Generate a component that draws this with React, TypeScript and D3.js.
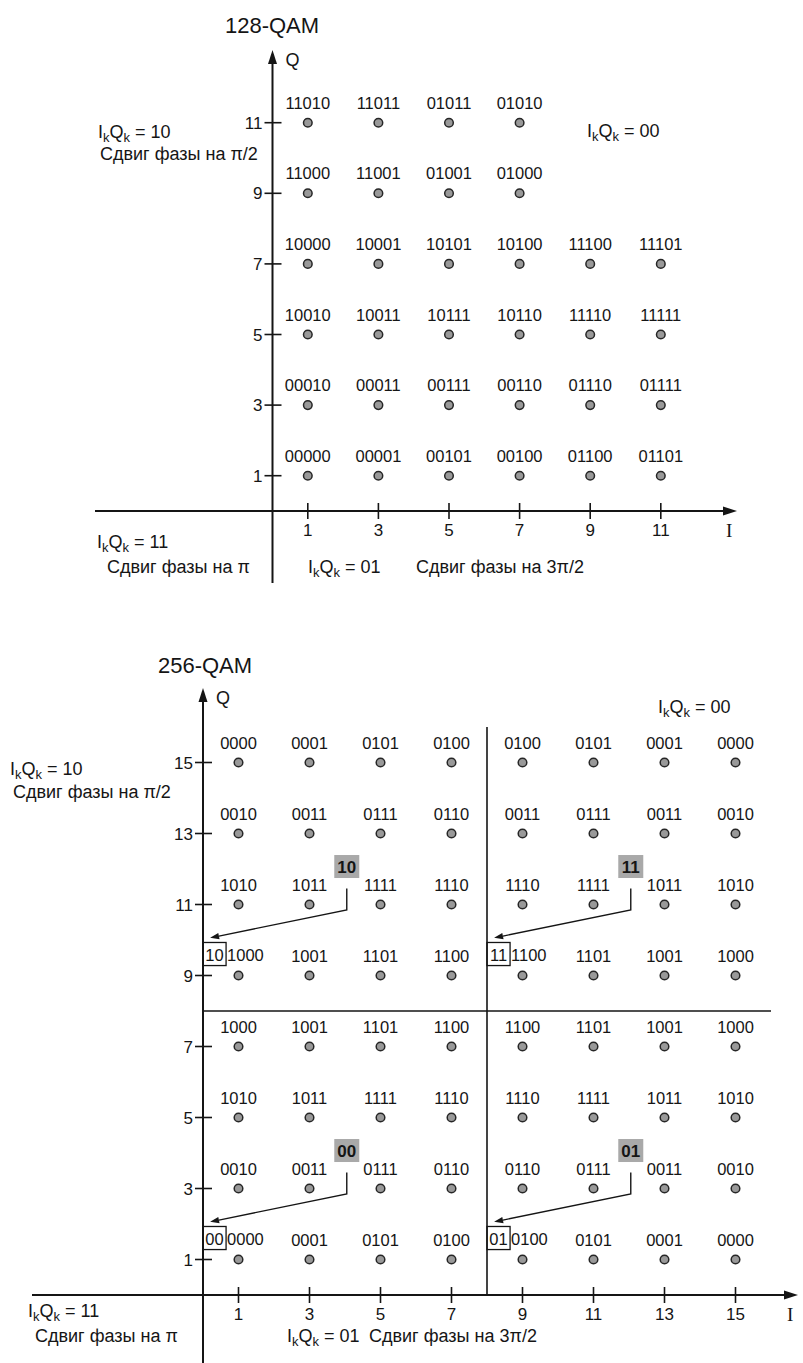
import React from 'react';
import * as d3 from 'd3';

const W = 803;
const H = 1363;

// 128-QAM: point labels by row (Q from top), columns follow I = 1, 3, 5 ...
const iValues128 = [1, 3, 5, 7, 9, 11];
const qValues128 = [11, 9, 7, 5, 3, 1];
const labels128 = [
  ['11010', '11011', '01011', '01010'],
  ['11000', '11001', '01001', '01000'],
  ['10000', '10001', '10101', '10100', '11100', '11101'],
  ['10010', '10011', '10111', '10110', '11110', '11111'],
  ['00010', '00011', '00111', '00110', '01110', '01111'],
  ['00000', '00001', '00101', '00100', '01100', '01101'],
];

// 256-QAM
const iValues256 = [1, 3, 5, 7, 9, 11, 13, 15];
const qValues256 = [15, 13, 11, 9, 7, 5, 3, 1];
const labels256 = [
  ['0000', '0001', '0101', '0100', '0100', '0101', '0001', '0000'],
  ['0010', '0011', '0111', '0110', '0011', '0111', '0011', '0010'],
  ['1010', '1011', '1111', '1110', '1110', '1111', '1011', '1010'],
  ['1000', '1001', '1101', '1100', '1100', '1101', '1001', '1000'],
  ['1000', '1001', '1101', '1100', '1100', '1101', '1001', '1000'],
  ['1010', '1011', '1111', '1110', '1110', '1111', '1011', '1010'],
  ['0010', '0011', '0111', '0110', '0110', '0111', '0011', '0010'],
  ['0000', '0001', '0101', '0100', '0100', '0101', '0001', '0000'],
];

// quadrant prefixes (IkQk) and the corner of each quadrant in I/Q units
const quadrants256 = [
  { bits: '10', i0: 0, q0: 8 },
  { bits: '11', i0: 8, q0: 8 },
  { bits: '00', i0: 0, q0: 0 },
  { bits: '01', i0: 8, q0: 0 },
];

const FONT = '"Liberation Sans", Arial, Helvetica, sans-serif';
const INK = '#151515';

const IkQk = ({ x, y, value }: { x: number; y: number; value: string }) => (
  <text x={x} y={y} fontSize={18} fill={INK} style={{ whiteSpace: 'pre' }}>
    I<tspan fontSize={13} dy={4}>k</tspan>
    <tspan dy={-4}>Q</tspan>
    <tspan fontSize={13} dy={4}>k</tspan>
    <tspan dy={-4}>{` = ${value}`}</tspan>
  </text>
);

const Note = ({ x, y, children }: { x: number; y: number; children: React.ReactNode }) => (
  <text x={x} y={y} fontSize={18} fill={INK}>
    {children}
  </text>
);

interface PanelProps {
  title: string;
  titleX: number;
  titleY: number;
  ox: number;
  oy: number;
  unit: number;
  xStart: number;
  xEnd: number;
  yTop: number;
  yBottom: number;
  iValues: number[];
  qValues: number[];
  labels: string[][];
  skip?: Set<string>;
  children?: (x: d3.ScaleLinear<number, number>, y: d3.ScaleLinear<number, number>) => React.ReactNode;
}

const Panel: React.FC<PanelProps> = (p) => {
  const x = d3.scaleLinear().domain([0, 1]).range([p.ox, p.ox + p.unit]);
  const y = d3.scaleLinear().domain([0, 1]).range([p.oy, p.oy - p.unit]);
  const ah = 14;
  const aw = 4.5;
  return (
    <g>
      <text x={p.titleX} y={p.titleY} fontSize={22} textAnchor="middle" fill={INK}>
        {p.title}
      </text>
      {/* axes */}
      <line x1={p.xStart} x2={p.xEnd - ah + 2} y1={p.oy} y2={p.oy} stroke={INK} strokeWidth={2} />
      <path
        d={`M${p.xEnd},${p.oy} L${p.xEnd - ah},${p.oy - aw} L${p.xEnd - ah},${p.oy + aw} Z`}
        fill={INK}
      />
      <line x1={p.ox} x2={p.ox} y1={p.yTop + ah - 2} y2={p.yBottom} stroke={INK} strokeWidth={2} />
      <path
        d={`M${p.ox},${p.yTop} L${p.ox - aw},${p.yTop + ah} L${p.ox + aw},${p.yTop + ah} Z`}
        fill={INK}
      />
      <text x={p.ox + 13} y={p.yTop + 16} fontSize={18} fill={INK}>
        Q
      </text>
      <text
        x={p.xEnd - 11}
        y={p.oy + 26}
        fontSize={19}
        fill={INK}
        fontFamily='"Liberation Serif", "Times New Roman", serif'
      >
        I
      </text>
      {/* ticks */}
      {p.qValues.map((q) => (
        <g key={'q' + q}>
          <line x1={p.ox - 8} x2={p.ox + 9} y1={y(q)} y2={y(q)} stroke={INK} strokeWidth={1.6} />
          <text x={p.ox - 10} y={y(q) + 6} fontSize={17} textAnchor="end" fill={INK}>
            {q}
          </text>
        </g>
      ))}
      {p.iValues.map((i) => (
        <g key={'i' + i}>
          <line x1={x(i)} x2={x(i)} y1={p.oy - 8} y2={p.oy + 8} stroke={INK} strokeWidth={1.6} />
          <text x={x(i)} y={p.oy + 25} fontSize={17} textAnchor="middle" fill={INK}>
            {i}
          </text>
        </g>
      ))}
      {/* constellation points */}
      {p.labels.map((row, r) =>
        row.map((lab, c) => {
          const i = p.iValues[c];
          const q = p.qValues[r];
          return (
            <g key={`${r}-${c}`}>
              <circle cx={x(i)} cy={y(q)} r={4.3} fill="#999999" stroke="#262626" strokeWidth={1.5} />
              {!p.skip?.has(`${i},${q}`) && (
                <text x={x(i)} y={y(q) - 14} fontSize={16.5} textAnchor="middle" fill={INK}>
                  {lab}
                </text>
              )}
            </g>
          );
        })
      )}
      {p.children && p.children(x, y)}
    </g>
  );
};

const labelAt = (labels: string[][], iValues: number[], qValues: number[], i: number, q: number) =>
  labels[qValues.indexOf(q)][iValues.indexOf(i)];

const Callout = ({
  bits,
  i0,
  q0,
  x,
  y,
}: {
  bits: string;
  i0: number;
  q0: number;
  x: d3.ScaleLinear<number, number>;
  y: d3.ScaleLinear<number, number>;
}) => {
  const cx = x(i0 + 4.05);
  const cy = y(q0 + 4.07);
  const vTop = y(q0 + 3.45);
  const vBot = y(q0 + 2.85);
  const tx = x(i0 + 0.2);
  const ty = y(q0 + 2.06);
  const ang = Math.atan2(ty - vBot, tx - cx);
  const al = 9;
  const aw = 3.2;
  const bx = tx - al * Math.cos(ang);
  const by = ty - al * Math.sin(ang);
  const px = -Math.sin(ang) * aw;
  const py = Math.cos(ang) * aw;
  const boxX0 = x(i0);
  const boxX1 = x(i0 + 0.65);
  const boxY0 = y(q0 + 1.93);
  const boxY1 = y(q0 + 1.28);
  const lab = labelAt(labels256, iValues256, qValues256, i0 + 1, q0 + 1);
  return (
    <g>
      <rect x={cx - 12.5} y={cy - 11.5} width={25} height={23} fill="#a9a9a9" />
      <text x={cx} y={cy + 6} fontSize={17} fontWeight="bold" textAnchor="middle" fill={INK}>
        {bits}
      </text>
      <polyline
        points={`${cx},${vTop} ${cx},${vBot} ${bx},${by}`}
        fill="none"
        stroke={INK}
        strokeWidth={1.4}
      />
      <path d={`M${tx},${ty} L${bx + px},${by + py} L${bx - px},${by - py} Z`} fill={INK} />
      <rect
        x={boxX0}
        y={boxY0}
        width={boxX1 - boxX0}
        height={boxY1 - boxY0}
        fill="none"
        stroke={INK}
        strokeWidth={1.3}
      />
      <text x={(boxX0 + boxX1) / 2} y={boxY1 - 5} fontSize={16.5} textAnchor="middle" fill={INK}>
        {bits}
      </text>
      <text x={boxX1 + 1} y={boxY1 - 5} fontSize={16.5} fill={INK}>
        {lab}
      </text>
    </g>
  );
};

const skip256 = new Set(quadrants256.map((d) => `${d.i0 + 1},${d.q0 + 1}`));

export default function App() {
  return (
    <svg
      width={W}
      height={H}
      style={{ position: 'absolute', left: 0, top: 0, background: '#fff' }}
      fontFamily={FONT}
    >
      <Panel
        title="128-QAM"
        titleX={272}
        titleY={33}
        ox={272.5}
        oy={511}
        unit={35.3}
        xStart={95}
        xEnd={737}
        yTop={50}
        yBottom={583}
        iValues={iValues128}
        qValues={qValues128}
        labels={labels128}
      />
      <IkQk x={98} y={138} value="10" />
      <Note x={100} y={160}>Сдвиг фазы на π/2</Note>
      <IkQk x={587} y={137} value="00" />
      <IkQk x={97} y={548} value="11" />
      <Note x={107} y={573}>Сдвиг фазы на π</Note>
      <IkQk x={308} y={573} value="01" />
      <Note x={416} y={573}>Сдвиг фазы на 3π/2</Note>

      <Panel
        title="256-QAM"
        titleX={205}
        titleY={673}
        ox={203}
        oy={1295}
        unit={35.5}
        xStart={32}
        xEnd={798}
        yTop={688}
        yBottom={1363}
        iValues={iValues256}
        qValues={qValues256}
        labels={labels256}
        skip={skip256}
      >
        {(x, y) => (
          <g>
            <line x1={x(8)} x2={x(8)} y1={y(0)} y2={y(16)} stroke={INK} strokeWidth={1.6} />
            <line x1={x(0)} x2={x(16)} y1={y(8)} y2={y(8)} stroke={INK} strokeWidth={1.6} />
            {quadrants256.map((d) => (
              <Callout key={d.bits} {...d} x={x} y={y} />
            ))}
          </g>
        )}
      </Panel>
      <IkQk x={658} y={713} value="00" />
      <IkQk x={10} y={775} value="10" />
      <Note x={13} y={798}>Сдвиг фазы на π/2</Note>
      <IkQk x={28} y={1317} value="11" />
      <Note x={35} y={1342}>Сдвиг фазы на π</Note>
      <IkQk x={287} y={1342} value="01" />
      <Note x={369} y={1342}>Сдвиг фазы на 3π/2</Note>
    </svg>
  );
}
